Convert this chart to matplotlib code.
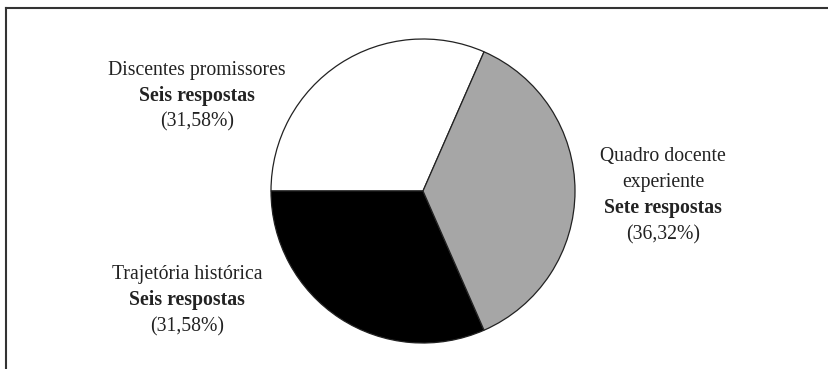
import matplotlib
matplotlib.use("Agg")
import matplotlib.pyplot as plt

# data
categories = ["Discentes promissores", "Trajetória histórica", "Quadro docente\nexperiente"]
respostas = [6, 6, 7]
resp_labels = ["Seis respostas", "Seis respostas", "Sete respostas"]
pct_labels = ["(31,58%)", "(31,58%)", "(36,32%)"]
colors = ["white", "black", "#a6a6a6"]

W, H = 829, 369
fig = plt.figure(figsize=(W / 100, H / 100), dpi=100)
ax = fig.add_axes([0, 0, 1, 1])

# pie in pixel coordinates (y measured from the bottom)
ax.pie(respostas, colors=colors, startangle=180 - 360 * respostas[0] / sum(respostas),
       center=(423, H - 191), radius=152, frame=True,
       wedgeprops=dict(edgecolor="#222222", linewidth=0.9))
ax.set_xlim(0, W)
ax.set_ylim(0, H)
ax.set_aspect("auto")
ax.axis("off")

# frame (only left and top edges are visible in the reference)
ax.plot([6.5, 6.5], [0, H - 8], color="#333333", lw=1.5, solid_capstyle="projecting")
ax.plot([6.5, W], [H - 8, H - 8], color="#333333", lw=1.5, solid_capstyle="projecting")

font = ["Liberation Serif", "DejaVu Serif"]
fs = 14.2
# label blocks: (x centre, y of first line) in pixels from the top
label_pos = [(197, 70), (187, 275), (663, 157)]
for i, (x, y) in enumerate(label_pos):
    lines = categories[i].split("\n")
    step = 25.5
    for j, t in enumerate(lines):
        ax.text(x, H - (y + j * step), t, ha="center", va="center",
                family=font, fontsize=fs, color="#222222")
    k = len(lines)
    ax.text(x, H - (y + k * step), resp_labels[i], ha="center", va="center",
            family=font, fontsize=fs, fontweight="bold", color="#222222")
    ax.text(x, H - (y + (k + 1) * step + 1), pct_labels[i], ha="center", va="center",
            family=font, fontsize=fs, color="#222222")

plt.savefig("out.png", dpi=100)
